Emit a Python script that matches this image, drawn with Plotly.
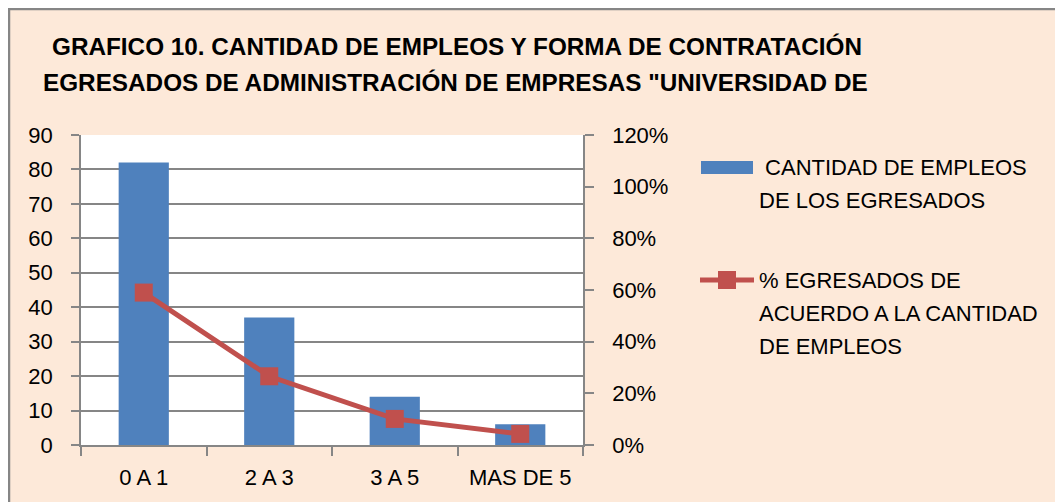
import plotly.graph_objects as go

# data
categorias = ["0 A 1", "2 A 3", "3 A 5", "MAS DE 5"]
cantidad_empleos = [82, 37, 14, 6]
pct_egresados = [0.59, 0.266, 0.101, 0.043]

titulo_1 = "GRAFICO 10. CANTIDAD DE EMPLEOS Y FORMA DE CONTRATACIÓN"
titulo_2 = 'EGRESADOS DE ADMINISTRACIÓN DE EMPRESAS "UNIVERSIDAD DE'
leyenda_barras = [" CANTIDAD DE EMPLEOS", "DE LOS EGRESADOS"]
leyenda_linea = ["% EGRESADOS DE", "ACUERDO A LA CANTIDAD", "DE EMPLEOS"]

AZUL = "#4F81BD"
ROJO = "#C0504D"
GRIS = "#868686"
FONDO = "#FDE9D9"
FUENTE = "Liberation Sans"

# the page body has an 8px margin, so the figure is drawn 8px in from the corner
OFF = 8
W, H = 1063 - OFF, 502 - OFF
L, R, T, B = 81, 583, 135, 445  # plot area, in page pixels


def px(x):
    return (x - L) / (R - L)


def py(y):
    return (B - y) / (B - T)


fig = go.Figure()

fig.add_trace(go.Bar(
    x=categorias, y=cantidad_empleos, width=0.4,
    marker=dict(color=AZUL, line=dict(width=0)),
    name="CANTIDAD DE EMPLEOS DE LOS EGRESADOS",
    showlegend=False,
))

fig.add_trace(go.Scatter(
    x=categorias, y=pct_egresados, yaxis="y2",
    mode="lines+markers",
    line=dict(color=ROJO, width=5),
    marker=dict(symbol="square", size=18, color=ROJO),
    name="% EGRESADOS DE ACUERDO A LA CANTIDAD DE EMPLEOS",
    showlegend=False,
))

shapes = [
    # grey frame
    dict(type="line", xref="paper", yref="paper", x0=px(8), x1=px(1075),
         y0=py(9), y1=py(9), line=dict(color=GRIS, width=2.5)),
    dict(type="line", xref="paper", yref="paper", x0=px(9), x1=px(9),
         y0=py(8), y1=py(520), line=dict(color=GRIS, width=2.5)),
    # legend symbols
    dict(type="rect", xref="paper", yref="paper", x0=px(701), x1=px(753),
         y0=py(174), y1=py(161), fillcolor=AZUL, line_width=0),
    dict(type="line", xref="paper", yref="paper", x0=px(700), x1=px(754),
         y0=py(280), y1=py(280), line=dict(color=ROJO, width=5)),
    dict(type="rect", xref="paper", yref="paper", x0=px(718), x1=px(736),
         y0=py(289), y1=py(271), fillcolor=ROJO, line_width=0),
]

annotations = [
    dict(text="<b>%s</b>" % titulo_1, x=px(457), y=py(47)),
    dict(text="<b>%s</b>" % titulo_2, x=px(455), y=py(82)),
]
for a in annotations:
    a.update(xref="paper", yref="paper", showarrow=False, xanchor="center",
             yanchor="middle", font=dict(size=24.3, color="black", family=FUENTE))

for i, t in enumerate(leyenda_barras):
    annotations.append(dict(text=t, x=px(757), y=py(167 + 33 * i)))
for i, t in enumerate(leyenda_linea):
    annotations.append(dict(text=t, x=px(757), y=py(280 + 33 * i)))
for a in annotations[2:]:
    a.update(xref="paper", yref="paper", showarrow=False, xanchor="left",
             yanchor="middle", font=dict(size=22, color="black", family=FUENTE))

fig.update_layout(
    width=W, height=H,
    margin=dict(l=L - OFF, r=1063 - R, t=T - OFF, b=502 - B, pad=0),
    paper_bgcolor=FONDO,
    plot_bgcolor="white",
    font=dict(family=FUENTE, size=22, color="black"),
    bargap=0.6,
    showlegend=False,
    shapes=shapes,
    annotations=annotations,
    xaxis=dict(
        showline=True, linecolor=GRIS, linewidth=1.5, mirror=False,
        ticks="outside", ticklen=9, tickcolor=GRIS, tickwidth=1.5,
        tickson="boundaries", showgrid=False, ticklabelstandoff=12,
    ),
    yaxis=dict(
        range=[0, 90], dtick=10, showgrid=True, gridcolor=GRIS, gridwidth=1.5,
        showline=True, linecolor=GRIS, linewidth=1.5, zeroline=False,
        ticks="outside", ticklen=8, tickcolor=GRIS, tickwidth=1.5,
        ticklabelstandoff=14,
    ),
    yaxis2=dict(
        range=[0, 1.2], dtick=0.2, tickformat=".0%", overlaying="y", side="right",
        showgrid=False, showline=True, linecolor=GRIS, linewidth=1.5,
        zeroline=False, ticks="outside", ticklen=9, tickcolor=GRIS, tickwidth=1.5,
        ticklabelstandoff=14,
    ),
)

fig.write_html("out.html")
